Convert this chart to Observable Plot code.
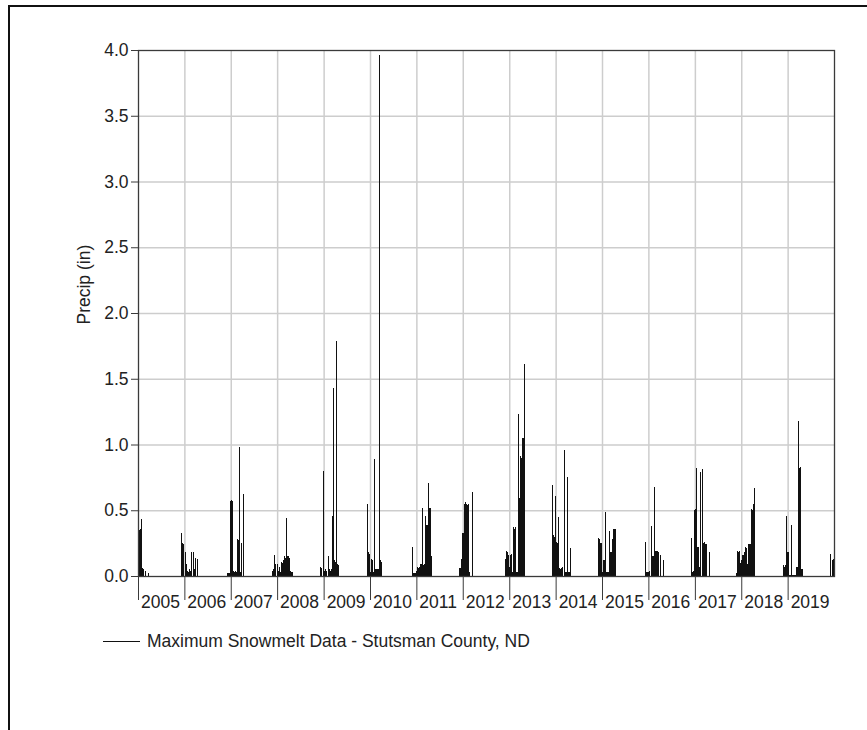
<!DOCTYPE html>
<html>
<head>
<meta charset="utf-8">
<script src="https://cdn.jsdelivr.net/npm/d3@7"></script>
<script src="https://cdn.jsdelivr.net/npm/@observablehq/plot@0.6"></script>
<style>
  html, body { margin: 0; padding: 0; background: #fff; overflow: hidden; }
  #page { position: relative; width: 867px; height: 730px; font-family: "Liberation Sans", Arial, sans-serif; }
  #border { position: absolute; left: 8px; top: 5px; width: 900px; height: 760px; border-left: 2px solid #111; border-top: 2px solid #111; }
  #chart { position: absolute; left: 0; top: 0; }
  #legend { position: absolute; left: 103px; top: 631px; display: flex; align-items: center; font-size: 17.5px; color: #222; white-space: nowrap; }
  #legend .swatch { width: 37px; height: 0; border-top: 1px solid #111; margin-right: 7px; }
</style>
</head>
<body>
<div id="page">
  <div id="border"></div>
  <div id="chart"></div>
  <div id="legend"><span class="swatch"></span><span id="legend-text"></span></div>
</div>
<script>
// Daily maximum snowmelt (inches), one season per line
const days = [
  "2005-01-03","2005-01-09","2005-01-15","2005-01-21","2005-01-27","2005-02-04","2005-02-12","2005-02-22","2005-03-01","2005-03-20",
  "2005-12-05","2005-12-13","2005-12-21","2005-12-25","2006-01-05","2006-01-09","2006-01-17","2006-01-25","2006-02-02","2006-02-10","2006-02-17","2006-02-25","2006-03-07","2006-03-17","2006-03-28","2006-04-08",
  "2006-12-01","2006-12-09","2006-12-17","2006-12-30","2007-01-04","2007-01-10","2007-01-17","2007-01-25","2007-02-02","2007-02-09","2007-02-19","2007-02-27","2007-03-08","2007-03-16","2007-03-25","2007-04-04","2007-04-11",
  "2007-11-24","2007-12-01","2007-12-07","2007-12-14","2007-12-19","2007-12-28","2008-01-02","2008-01-10","2008-01-17","2008-01-25","2008-02-04","2008-02-12","2008-02-19","2008-02-22","2008-03-01","2008-03-10","2008-03-15","2008-03-22","2008-03-29","2008-04-03","2008-04-08","2008-04-16","2008-04-25",
  "2008-12-06","2008-12-13","2008-12-30","2009-01-04","2009-01-12","2009-01-20","2009-02-01","2009-02-09","2009-02-17","2009-02-25","2009-03-04","2009-03-10","2009-03-17","2009-03-22","2009-03-30","2009-04-06","2009-04-12","2009-04-18","2009-04-26",
  "2009-12-08","2009-12-14","2009-12-21","2009-12-27","2010-01-01","2010-01-07","2010-01-10","2010-01-16","2010-01-21","2010-01-29","2010-02-05","2010-02-11","2010-02-19","2010-02-27","2010-03-06","2010-03-14","2010-03-19","2010-03-27",
  "2010-11-26","2010-12-03","2010-12-11","2010-12-19","2010-12-28","2011-01-04","2011-01-08","2011-01-16","2011-01-24","2011-01-31","2011-02-07","2011-02-14","2011-02-22","2011-03-01","2011-03-08","2011-03-14","2011-03-22","2011-03-29","2011-04-03","2011-04-07","2011-04-14","2011-04-20","2011-04-23","2011-04-30",
  "2011-12-04","2011-12-10","2011-12-16","2011-12-20","2011-12-24","2011-12-30","2012-01-04","2012-01-09","2012-01-15","2012-01-21","2012-01-28","2012-02-03","2012-02-08","2012-02-13","2012-02-20","2012-03-10",
  "2012-11-25","2012-12-01","2012-12-05","2012-12-11","2012-12-14","2012-12-22","2012-12-26","2013-01-01","2013-01-08","2013-01-17","2013-01-22","2013-01-28","2013-02-03","2013-02-10","2013-02-17","2013-02-22","2013-03-01","2013-03-08","2013-03-12","2013-03-19","2013-03-26","2013-03-30","2013-04-05","2013-04-08","2013-04-14","2013-04-20","2013-04-28",
  "2013-12-03","2013-12-08","2013-12-15","2013-12-21","2013-12-26","2014-01-01","2014-01-07","2014-01-13","2014-01-22","2014-01-30","2014-02-07","2014-02-15","2014-02-22","2014-03-08","2014-03-14","2014-03-21","2014-03-31","2014-04-06","2014-04-13","2014-04-23",
  "2014-12-01","2014-12-08","2014-12-11","2014-12-17","2014-12-24","2014-12-27","2015-01-02","2015-01-06","2015-01-14","2015-01-26","2015-02-01","2015-02-09","2015-02-16","2015-03-01","2015-03-07","2015-03-14","2015-03-20","2015-03-22","2015-03-29","2015-03-31","2015-04-06","2015-04-12",
  "2015-12-04","2015-12-14","2015-12-22","2015-12-29","2016-01-06","2016-01-18","2016-01-28","2016-02-03","2016-02-14","2016-02-22","2016-02-29","2016-03-05","2016-03-20","2016-04-02","2016-04-23",
  "2016-12-02","2016-12-10","2016-12-18","2016-12-26","2016-12-28","2017-01-04","2017-01-12","2017-01-15","2017-01-22","2017-01-29","2017-02-01","2017-02-07","2017-02-13","2017-02-23","2017-03-01","2017-03-07","2017-03-13","2017-03-16","2017-03-23","2017-03-29","2017-04-22",
  "2017-11-20","2017-11-27","2017-12-01","2017-12-07","2017-12-13","2017-12-16","2017-12-23","2017-12-30","2018-01-04","2018-01-10","2018-01-16","2018-01-19","2018-01-25","2018-01-31","2018-02-06","2018-02-12","2018-02-20","2018-02-25","2018-03-04","2018-03-11","2018-03-17","2018-03-19","2018-03-25","2018-03-31","2018-04-02","2018-04-08","2018-04-15",
  "2018-11-28","2018-12-05","2018-12-12","2018-12-19","2018-12-25","2019-01-01","2019-01-06","2019-01-10","2019-01-18","2019-01-31","2019-02-05","2019-02-13","2019-02-21","2019-03-01","2019-03-06","2019-03-14","2019-03-21","2019-03-26","2019-04-02","2019-04-08","2019-04-11","2019-04-19","2019-04-24",
  "2019-12-02","2019-12-17","2019-12-23","2019-12-30"
];
const precip = [
  0.36,0.35,0.36,0.43,0.07,0.06,0.05,0.04,0.03,0.02,
  0.33,0.25,0.24,0.04,0.18,0.17,0.09,0.04,0.03,0.05,0.04,0.18,0.18,0.05,0.14,0.13,
  0.02,0.02,0.02,0.57,0.58,0.57,0.04,0.03,0.04,0.03,0.28,0.27,0.98,0.03,0.25,0.24,0.62,
  0.04,0.05,0.16,0.05,0.09,0.09,0.04,0.04,0.07,0.03,0.11,0.10,0.12,0.15,0.14,0.44,0.15,0.14,0.15,0.14,0.04,0.03,0.03,
  0.07,0.06,0.80,0.04,0.05,0.04,0.15,0.05,0.04,0.05,0.46,0.45,1.43,0.12,0.11,0.12,1.79,0.09,0.08,
  0.55,0.18,0.17,0.16,0.03,0.03,0.13,0.12,0.03,0.03,0.89,0.05,0.05,0.05,0.05,3.96,0.12,0.11,
  0.22,0.02,0.02,0.02,0.04,0.05,0.07,0.06,0.07,0.09,0.09,0.52,0.08,0.09,0.46,0.39,0.38,0.39,0.71,0.52,0.51,0.52,0.15,0.14,
  0.06,0.06,0.12,0.13,0.33,0.32,0.33,0.55,0.56,0.55,0.55,0.54,0.55,0.04,0.03,0.64,
  0.13,0.13,0.19,0.18,0.16,0.16,0.07,0.07,0.16,0.17,0.03,0.03,0.37,0.36,0.37,0.03,0.03,1.23,0.60,0.59,0.60,0.91,0.90,1.05,1.04,1.05,1.61,
  0.69,0.30,0.31,0.30,0.61,0.25,0.26,0.25,0.45,0.06,0.05,0.06,0.07,0.96,0.03,0.03,0.75,0.03,0.03,0.21,
  0.29,0.28,0.25,0.25,0.25,0.03,0.03,0.12,0.12,0.49,0.03,0.03,0.03,0.34,0.18,0.18,0.18,0.28,0.28,0.36,0.36,0.36,
  0.26,0.03,0.03,0.03,0.04,0.38,0.15,0.15,0.68,0.19,0.19,0.19,0.18,0.16,0.12,
  0.29,0.03,0.04,0.03,0.50,0.51,0.82,0.22,0.22,0.22,0.07,0.07,0.79,0.81,0.26,0.25,0.26,0.24,0.24,0.24,0.18,
  0.02,0.02,0.19,0.18,0.19,0.11,0.10,0.12,0.16,0.15,0.16,0.18,0.17,0.22,0.21,0.09,0.10,0.24,0.24,0.24,0.24,0.51,0.50,0.51,0.55,0.54,0.67,
  0.08,0.07,0.08,0.46,0.18,0.17,0.18,0.01,0.01,0.39,0.01,0.01,0.01,0.01,0.07,0.07,1.18,0.83,0.82,0.83,0.05,0.05,0.05,
  0.17,0.12,0.13,0.12
];

// Axis ticks and labels
const years = [2005, 2006, 2007, 2008, 2009, 2010, 2011, 2012, 2013, 2014, 2015, 2016, 2017, 2018, 2019];
const yTicks = [0, 0.5, 1, 1.5, 2, 2.5, 3, 3.5, 4];
const yTitle = "Precip (in)";
const seriesName = "Maximum Snowmelt Data - Stutsman County, ND";

const series = days.map((d, i) => ({date: new Date(d + "T00:00:00Z"), value: precip[i]}));
const yearStarts = years.map(y => new Date(Date.UTC(y, 0, 1)));
const xEnd = new Date(Date.UTC(years[years.length - 1] + 1, 0, 1));

const axisColor = "#3a3a3a";
const gridColor = "#cdcdcd";

const chart = Plot.plot({
  width: 867,
  height: 620,
  marginLeft: 138,
  marginRight: 33,
  marginTop: 50,
  marginBottom: 44,
  style: {fontFamily: "Liberation Sans, Arial, sans-serif", fontSize: "17.5px", color: "#222", background: "transparent"},
  x: {type: "utc", domain: [yearStarts[0], xEnd], label: null},
  y: {domain: [0, 4], label: null},
  marks: [
    Plot.ruleY(yTicks.slice(1, -1), {stroke: gridColor, strokeWidth: 1.5}),
    Plot.ruleX(yearStarts.slice(1), {stroke: gridColor, strokeWidth: 1.5}),
    Plot.ruleX(series, {x: "date", y1: 0, y2: "value", stroke: "#111", strokeWidth: 1, shapeRendering: "crispEdges"}),
    Plot.frame({stroke: axisColor, strokeWidth: 1.3}),
    Plot.axisY(yTicks, {tickSize: 7, tickPadding: 3, tickFormat: d => d.toFixed(1), stroke: axisColor, fill: "#222", label: null}),
    Plot.axisX(yearStarts, {tickSize: 24, fill: "none", stroke: axisColor, label: null}),
    Plot.axisX(yearStarts, {tickSize: 0, tickPadding: 19.5, textAnchor: "start", dx: 2.5, tickFormat: d => String(d.getUTCFullYear()), fill: "#222", label: null}),
    Plot.text([yTitle], {frameAnchor: "left", rotate: -90, dx: -54, dy: 11, fill: "#222"})
  ]
});

document.getElementById("chart").append(chart);
document.getElementById("legend-text").textContent = seriesName;
</script>
</body>
</html>
